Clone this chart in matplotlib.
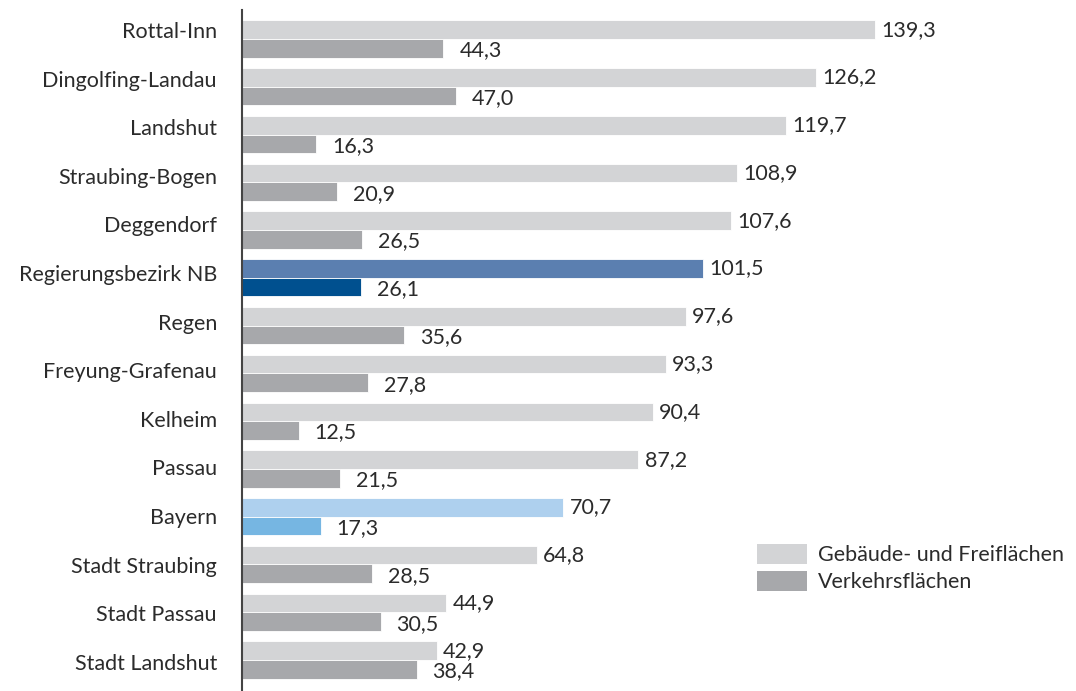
import matplotlib
matplotlib.use("Agg")
import matplotlib.pyplot as plt
from matplotlib.patches import Patch

categories = ["Rottal-Inn", "Dingolfing-Landau", "Landshut", "Straubing-Bogen", "Deggendorf",
              "Regierungsbezirk NB", "Regen", "Freyung-Grafenau", "Kelheim", "Passau",
              "Bayern", "Stadt Straubing", "Stadt Passau", "Stadt Landshut"]
gebaeude = [139.3, 126.2, 119.7, 108.9, 107.6, 101.5, 97.6, 93.3, 90.4, 87.2, 70.7, 64.8, 44.9, 42.9]
verkehr = [44.3, 47.0, 16.3, 20.9, 26.5, 26.1, 35.6, 27.8, 12.5, 21.5, 17.3, 28.5, 30.5, 38.4]
series_names = ["Gebäude- und Freiflächen", "Verkehrsflächen"]

c_light = "#D3D4D6"
c_dark = "#A7A8AB"
special = {"Regierungsbezirk NB": ("#5B7FB0", "#00508F"),
           "Bayern": ("#AED0EE", "#76B6E2")}

font = "Lato"
fs = 15.5
txtc = "#2b2b2b"

fig = plt.figure(figsize=(10.76, 6.91), dpi=100)
ax = fig.add_axes([242/1076, 0, 1 - 242/1076, 681/691])

n = len(categories)
h = 0.39
for i, cat in enumerate(categories):
    c1, c2 = special.get(cat, (c_light, c_dark))
    ax.barh(i - h/2, gebaeude[i], height=h, color=c1, edgecolor="white", linewidth=0.6)
    ax.barh(i + h/2, verkehr[i], height=h, color=c2, edgecolor="white", linewidth=0.6)
    ax.annotate(f"{gebaeude[i]:.1f}".replace(".", ","), (gebaeude[i], i - h/2),
                xytext=(4.5, 0), textcoords="offset points", va="center", ha="left",
                fontsize=fs, family=font, color=txtc)
    ax.annotate(f"{verkehr[i]:.1f}".replace(".", ","), (verkehr[i], i + h/2),
                xytext=(11.5, -1.5), textcoords="offset points", va="center", ha="left",
                fontsize=fs, family=font, color=txtc)

ax.set_xlim(0, 834/4.545)
ax.set_ylim(13 + 0.649, -0.607)
ticks = [-0.188 + 1.0174*i for i in range(n)]
ax.set_yticks(ticks)
ax.set_yticklabels(categories, fontsize=fs, family=font, color=txtc)
ax.tick_params(axis="y", length=0, pad=18)
ax.set_xticks([])
for s in ["top", "right", "bottom"]:
    ax.spines[s].set_visible(False)
ax.spines["left"].set_color("#444444")
ax.spines["left"].set_linewidth(1.5)

handles = [Patch(facecolor=c_light, edgecolor="none"), Patch(facecolor=c_dark, edgecolor="none")]
leg = fig.legend(handles, series_names, loc="upper left", bbox_to_anchor=(757/1076, 1 - 544/691),
                 frameon=False, prop={"family": font, "size": fs}, handlelength=2.3, handleheight=1.05,
                 labelspacing=0.25, handletextpad=0.55, borderaxespad=0, borderpad=0)
for t in leg.get_texts():
    t.set_color(txtc)

fig.savefig("out.png", dpi=100)
